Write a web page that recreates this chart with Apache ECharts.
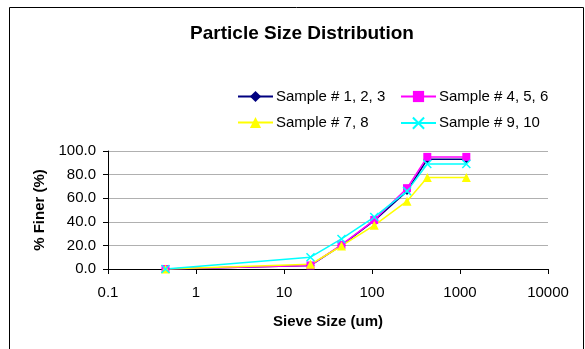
<!DOCTYPE html>
<html>
<head>
<meta charset="utf-8">
<script src="https://cdn.jsdelivr.net/npm/echarts@6/dist/echarts.min.js"></script>
<style>
html,body{margin:0;padding:0;background:#fff;}
#chart{width:585px;height:349px;}
</style>
</head>
<body>
<div id="chart"></div>
<script>
// Sieve sizes (um)
const sieveSizes = [0.45, 20, 45, 106, 250, 425, 1180];
const seriesNames = ['Sample # 1, 2, 3', 'Sample # 4, 5, 6', 'Sample # 7, 8', 'Sample # 9, 10'];
const sample123 = [0, 3, 20, 41, 66, 93, 93];
const sample456 = [0, 3, 20.5, 41.5, 68.5, 95, 95];
const sample78  = [0, 4, 19.5, 37, 57.5, 77.5, 77.5];
const sample910 = [0, 10, 25.5, 44, 66, 89, 89];
const yTicks = [0, 20, 40, 60, 80, 100];

const FONT = 'Liberation Sans, Arial, sans-serif';
const pair = (ys) => sieveSizes.map((x, i) => [x, ys[i]]);

const chart = echarts.init(document.getElementById('chart'));
const xPath = 'path://M0,0L10,10M10,0L0,10';

chart.setOption({
  animation: false,
  backgroundColor: '#fff',
  textStyle: { fontFamily: FONT },
  title: {
    text: 'Particle Size Distribution',
    left: 297, top: 19, textAlign: 'center',
    textStyle: { fontFamily: FONT, fontSize: 19, fontWeight: 'bold', color: '#000' }
  },
  graphic: [{
    type: 'rect', silent: true,
    shape: { x: 9.5, y: 7.5, width: 574, height: 400 },
    style: { fill: 'none', stroke: '#000', lineWidth: 1 }
  }],
  legend: [{
    data: [seriesNames[0], seriesNames[2]],
    orient: 'vertical', left: 237, top: 89, itemGap: 11,
    itemWidth: 35, itemHeight: 14,
    textStyle: { fontFamily: FONT, fontSize: 15, color: '#000', padding: [0,0,0,-2] },
    padding: 0
  }, {
    data: [seriesNames[1], seriesNames[3]],
    orient: 'vertical', left: 400, top: 89, itemGap: 11,
    itemWidth: 35, itemHeight: 14,
    textStyle: { fontFamily: FONT, fontSize: 15, color: '#000', padding: [0,0,0,-2] },
    padding: 0
  }],
  grid: { left: 108, top: 151, right: 37, bottom: 80 },
  xAxis: {
    type: 'log', logBase: 10, min: 0.1, max: 10000,
    name: 'Sieve Size (um)', nameLocation: 'middle', nameGap: 45,
    nameTextStyle: { fontFamily: FONT, fontSize: 15, fontWeight: 'bold', color: '#000' },
    axisLine: { lineStyle: { color: '#000', width: 1 } },
    axisTick: { show: true, inside: false, length: 5, lineStyle: { color: '#000' } },
    axisLabel: { fontFamily: FONT, fontSize: 15, color: '#000', margin: 16,
      formatter: (v) => String(+v.toPrecision(6)) },
    splitLine: { show: false },
    minorTick: { show: false }
  },
  yAxis: {
    type: 'value', min: yTicks[0], max: yTicks[yTicks.length - 1], interval: 20,
    name: '% Finer (%)', nameLocation: 'middle', nameGap: 60, nameRotate: 90,
    nameTextStyle: { fontFamily: FONT, fontSize: 15, fontWeight: 'bold', color: '#000' },
    axisLine: { show: true, lineStyle: { color: '#000', width: 1 } },
    axisTick: { show: true, inside: false, length: 5, lineStyle: { color: '#000' } },
    axisLabel: { fontFamily: FONT, fontSize: 15, color: '#000', margin: 12,
      formatter: (v) => v.toFixed(1) },
    splitLine: { show: true, lineStyle: { color: '#b0b0b0', width: 1 } }
  },
  series: [{
    name: seriesNames[0], type: 'line', data: pair(sample123),
    symbol: 'diamond', symbolSize: 8, showAllSymbol: true,
    lineStyle: { color: '#000080', width: 1.5 },
    itemStyle: { color: '#000080' }
  }, {
    name: seriesNames[1], type: 'line', data: pair(sample456),
    symbol: 'rect', symbolSize: 8,
    lineStyle: { color: '#ff00ff', width: 1.5 },
    itemStyle: { color: '#ff00ff' }
  }, {
    name: seriesNames[2], type: 'line', data: pair(sample78),
    symbol: 'triangle', symbolSize: 9,
    lineStyle: { color: '#ffff00', width: 1.5 },
    itemStyle: { color: '#ffff00' }
  }, {
    name: seriesNames[3], type: 'line', data: pair(sample910),
    symbol: xPath, symbolSize: 8,
    lineStyle: { color: '#00ffff', width: 1.5 },
    itemStyle: { color: 'none', borderColor: '#00ffff', borderWidth: 1.5 }
  }]
});
</script>
</body>
</html>
